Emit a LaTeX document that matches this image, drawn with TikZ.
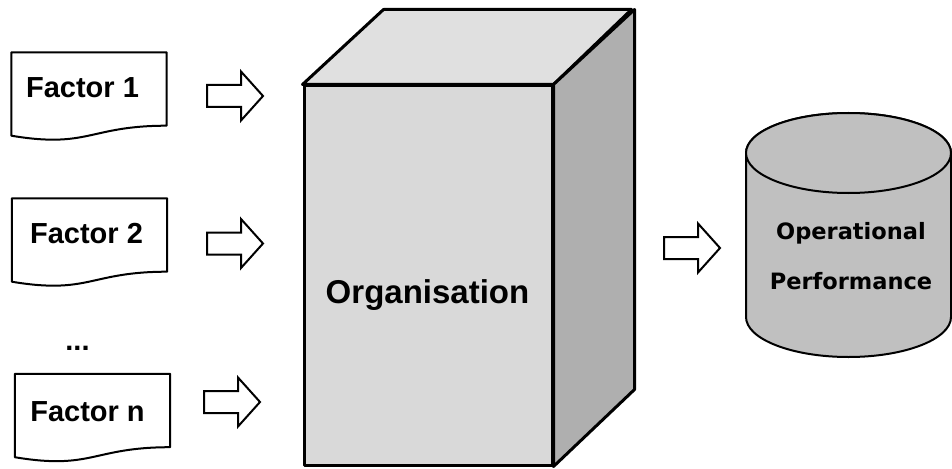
\documentclass[tikz,border=0pt]{standalone}
\usepackage{fontspec}
\setmainfont{Liberation Sans}
\newfontfamily\cylfont{DejaVu Sans}
\definecolor{frontgray}{HTML}{D9D9D9}
\definecolor{topgray}{HTML}{E0E0E0}
\definecolor{sidegray}{HTML}{AFAFAF}
\definecolor{cylgray}{HTML}{C0C0C0}
% hollow block arrow pointing right, #1 = middle of its left end
\newcommand\hollowarrow[1]{%
  \draw[arrowline] (#1) ++(0,-11) -- ++(34,0) -- ++(0,-13.5) -- ++(22,24.5)
    -- ++(-22,24.5) -- ++(0,-13.5) -- ++(-34,0) -- cycle;}
% document shape with a wavy lower edge, drawn round node #1
\newcommand\docoutline[1]{%
  \draw[docline] (#1.north west) -- (#1.north east) -- ([yshift=10pt]#1.south east)
    .. controls ([yshift=10pt]#1.south) and ([yshift=-13pt]#1.south) .. (#1.south west) -- cycle;}
\begin{document}
\begin{tikzpicture}[x=1pt,y=-1pt,
  docbox/.style={minimum width=155pt, minimum height=83pt, inner sep=0pt},
  docline/.style={draw=black, line width=2pt, line join=round, fill=white},
  arrowline/.style={draw=black, line width=2pt, line join=miter, fill=white},
  boxline/.style={draw=black, line width=3pt, line join=round},
  factortext/.style={font=\bfseries\fontsize{29}{29}\selectfont, anchor=base, inner sep=0pt},
  orgtext/.style={font=\bfseries\fontsize{33}{33}\selectfont, anchor=base, inner sep=0pt},
  perftext/.style={font=\cylfont\bfseries\fontsize{22.5}{22.5}\selectfont, anchor=base, inner sep=0pt}]
\useasboundingbox (0,0) rectangle (952,468);

% input factors
\node[docbox] (f1) at (89,94) {};
\docoutline{f1}
\node[factortext] (t1) at (82.5,98) {Factor 1};

\node[docbox] (f2) at (89.5,240) {};
\docoutline{f2}
\node[factortext] (t2) at (86.5,243) {Factor 2};

\node[factortext] (dots) at (77.5,350) {...};

\node[docbox] (fn) at (92.5,415.5) {};
\docoutline{fn}
\node[factortext] (tn) at (87.5,421) {Factor n};

% arrows into the organisation
\coordinate (a1) at (207,96);
\coordinate (a2) at (207,243.5);
\coordinate (an) at (204,402);
\hollowarrow{a1}
\hollowarrow{a2}
\hollowarrow{an}

% the organisation as a box
\node[boxline, fill=frontgray, minimum width=248pt, minimum height=379pt, inner sep=0pt] (org) at (428,275.5) {};
\draw[boxline, fill=topgray] (org.north west) -- ++(81,-75) -- ++(248,0) -- (org.north east) -- cycle;
\draw[boxline, fill=sidegray] (org.north east) -- ++(81,-75) -- ++(0,380) -- (org.south east) -- cycle;
\node[orgtext] (orglabel) at (427.5,303) {Organisation};

% arrow to the outcome
\coordinate (a4) at (664,248);
\hollowarrow{a4}

% outcome cylinder
\draw[line width=2pt, fill=cylgray] (746,153) -- (746,317)
  arc[start angle=180, end angle=0, x radius=102.5, y radius=40] -- (951,153)
  arc[start angle=0, end angle=-180, x radius=102.5, y radius=40] -- cycle;
\draw[line width=2pt, fill=cylgray] (848.5,153) ellipse[x radius=102.5, y radius=40];
\node[perftext] (p1) at (851,239) {Operational};
\node[perftext] (p2) at (851,289) {Performance};
\end{tikzpicture}
\end{document}
